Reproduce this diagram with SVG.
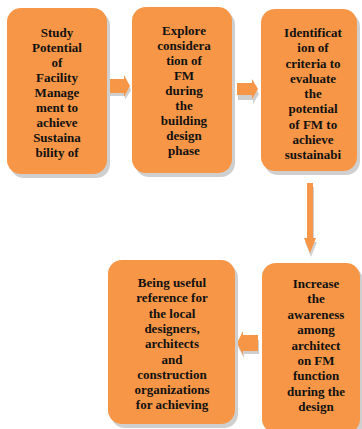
<svg xmlns="http://www.w3.org/2000/svg" width="362" height="429" viewBox="0 0 362 429">
<defs>
<style>
.sh{fill:#cfcfcf}
.bx{fill:#f79646}
.t{font-family:"Liberation Serif","Times New Roman",serif;font-weight:bold;font-size:13px;fill:#111;text-anchor:middle}
.ar{fill:#f79646}
</style>
<clipPath id="c1"><rect x="7" y="8" width="100" height="166" rx="14"/></clipPath>
<clipPath id="c2"><rect x="132" y="7" width="100" height="166" rx="14"/></clipPath>
<clipPath id="c3"><rect x="261" y="9" width="96" height="162" rx="14"/></clipPath>
<clipPath id="c4"><rect x="108" y="260" width="127" height="164" rx="14"/></clipPath>
<clipPath id="c5"><rect x="262" y="263" width="98" height="170" rx="14"/></clipPath>
</defs>
<rect width="362" height="429" fill="#fff"/>
<g id="connectors">
<path class="sh" d="M110 84h15v-4l6 10-6 10v-4h-15z"/>
<path class="ar" d="M109 79h15v-4l6 11-6 11v-4h-15z"/>
<path class="sh" d="M238 88h15v-4l6 10-6 10v-4h-15z"/>
<path class="ar" d="M237 83h15v-4l6 10-6 10v-4h-15z"/>
<path class="sh" d="M308 187h6v55h3l-6 15-6-15h3z"/>
<path class="ar" d="M307 183h6v55h3l-6 15-6-15h3z"/>
<path class="sh" d="M259 340h-15v-4l-6 11 6 11v-4h15z"/>
<path class="ar" d="M258 335h-15v-4l-6 12 6 12v-4h15z"/>
</g>
<g id="n1">
<rect class="sh" x="10" y="12" width="100" height="166" rx="14"/>
<rect class="bx" x="7" y="8" width="100" height="166" rx="14"/>
<text class="t" clip-path="url(#c1)"><tspan x="57" y="36.5">Study</tspan><tspan x="57" y="51.6">Potential</tspan><tspan x="57" y="66.7">of</tspan><tspan x="57" y="81.8">Facility</tspan><tspan x="57" y="96.9">Manage</tspan><tspan x="57" y="112">ment to</tspan><tspan x="57" y="127.1">achieve</tspan><tspan x="57" y="142.2">Sustaina</tspan><tspan x="57" y="157.3">bility of</tspan></text>
</g>
<g id="n2">
<rect class="sh" x="135" y="11" width="100" height="166" rx="14"/>
<rect class="bx" x="132" y="7" width="100" height="166" rx="14"/>
<text class="t" clip-path="url(#c2)"><tspan x="184" y="34.5">Explore</tspan><tspan x="184" y="49.6">considera</tspan><tspan x="184" y="64.7">tion of</tspan><tspan x="184" y="79.8">FM</tspan><tspan x="184" y="94.9">during</tspan><tspan x="184" y="110">the</tspan><tspan x="184" y="125.1">building</tspan><tspan x="184" y="140.2">design</tspan><tspan x="184" y="155.3">phase</tspan></text>
</g>
<g id="n3">
<rect class="sh" x="264" y="13" width="96" height="162" rx="14"/>
<rect class="bx" x="261" y="9" width="96" height="162" rx="14"/>
<text class="t" clip-path="url(#c3)"><tspan x="313" y="37">Identificat</tspan><tspan x="313" y="52">ion of</tspan><tspan x="313" y="67.5">criteria to</tspan><tspan x="313" y="82.5">evaluate</tspan><tspan x="313" y="97.5">the</tspan><tspan x="313" y="113">potential</tspan><tspan x="313" y="128.5">of FM to</tspan><tspan x="313" y="144">achieve</tspan><tspan x="313" y="159">sustainabi</tspan></text>
</g>
<g id="n4">
<rect class="sh" x="111" y="264" width="127" height="164" rx="14"/>
<rect class="bx" x="108" y="260" width="127" height="164" rx="14"/>
<text class="t" clip-path="url(#c4)"><tspan x="172" y="287">Being useful</tspan><tspan x="172" y="302.3">reference for</tspan><tspan x="172" y="317.6">the local</tspan><tspan x="172" y="332.9">designers,</tspan><tspan x="172" y="348.2">architects</tspan><tspan x="172" y="363.5">and</tspan><tspan x="172" y="378.8">construction</tspan><tspan x="172" y="394.1">organizations</tspan><tspan x="172" y="409.4">for achieving</tspan></text>
</g>
<g id="n5">
<rect class="sh" x="265" y="267" width="98" height="170" rx="14"/>
<rect class="bx" x="262" y="263" width="98" height="170" rx="14"/>
<text class="t" clip-path="url(#c5)"><tspan x="316" y="288">Increase</tspan><tspan x="316" y="303.4">the</tspan><tspan x="316" y="318.8">awareness</tspan><tspan x="316" y="334.2">among</tspan><tspan x="316" y="349.6">architect</tspan><tspan x="316" y="365">on FM</tspan><tspan x="316" y="380.4">function</tspan><tspan x="316" y="395.8">during the</tspan><tspan x="316" y="411.2">design</tspan></text>
</g>
</svg>
